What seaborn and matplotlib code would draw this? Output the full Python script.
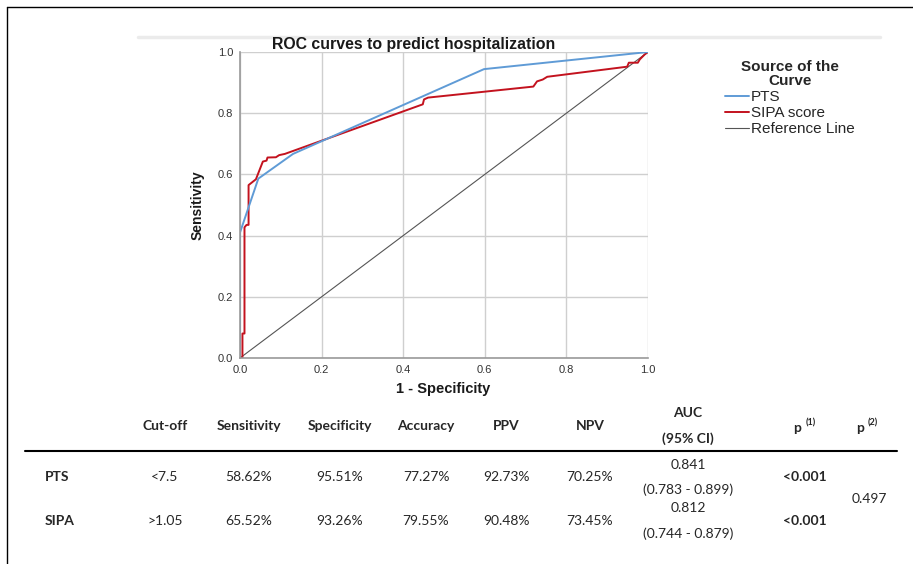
import numpy as np
import pandas as pd
import matplotlib
matplotlib.use("Agg")
import matplotlib.pyplot as plt
import seaborn as sns
from matplotlib.lines import Line2D

# ---------------- data ----------------
pts_fpr = [0.0, 0.0, 0.0449, 0.130, 0.598, 1.0]
pts_tpr = [0.0, 0.410, 0.5862, 0.667, 0.944, 1.0]

sipa_fpr = [0.0, 0.006, 0.006, 0.011, 0.011, 0.016, 0.021, 0.021, 0.039, 0.056, 0.065,
            0.0674, 0.088, 0.096, 0.110, 0.448, 0.451, 0.461, 0.719, 0.728, 0.742,
            0.753, 0.949, 0.953, 0.975, 0.980, 0.992, 1.0]
sipa_tpr = [0.0, 0.0, 0.080, 0.080, 0.427, 0.435, 0.435, 0.565, 0.584, 0.642, 0.645,
            0.6552, 0.656, 0.663, 0.667, 0.829, 0.845, 0.851, 0.887, 0.904, 0.910,
            0.919, 0.952, 0.965, 0.965, 0.976, 0.992, 1.0]

ref_fpr = [0.0, 1.0]
ref_tpr = [0.0, 1.0]

series_names = ["PTS", "SIPA score", "Reference Line"]
series_colors = ["#5f9bd6", "#c3121e", "#555555"]
axis_ticks = [0.0, 0.2, 0.4, 0.6, 0.8, 1.0]

row_labels = ["PTS", "SIPA"]
cutoffs = ["<7.5", ">1.05"]
sensitivity = ["58.62%", "65.52%"]
specificity = ["95.51%", "93.26%"]
accuracy = ["77.27%", "79.55%"]
ppv = ["92.73%", "90.48%"]
npv = ["70.25%", "73.45%"]
auc = ["0.841", "0.812"]
auc_ci = ["(0.783 - 0.899)", "(0.744 - 0.879)"]
p1 = ["<0.001", "<0.001"]
p2 = "0.497"
headers = ["Cut-off", "Sensitivity", "Specificity", "Accuracy", "PPV", "NPV"]

# ---------------- build frame ----------------
df = pd.concat([
    pd.DataFrame({"fpr": ref_fpr, "tpr": ref_tpr, "curve": series_names[2]}),
    pd.DataFrame({"fpr": sipa_fpr, "tpr": sipa_tpr, "curve": series_names[1]}),
    pd.DataFrame({"fpr": pts_fpr, "tpr": pts_tpr, "curve": series_names[0]}),
], ignore_index=True)

sns.set_theme(style="whitegrid")
plt.rcParams['font.family'] = ['Liberation Sans', 'DejaVu Sans']

W, H = 913, 564
fig = plt.figure(figsize=(W / 100, H / 100), dpi=100)
fig.patch.set_facecolor("white")

def fx(x):
    return x / W

def fy(y):
    return 1 - y / H

ax = fig.add_axes([fx(240), fy(358), 408 / W, 306 / H])
palette = dict(zip(series_names, series_colors))
sns.lineplot(data=df, x="fpr", y="tpr", hue="curve", units="curve", estimator=None,
             sort=False, palette=palette, hue_order=[series_names[2], series_names[1], series_names[0]],
             legend=False, ax=ax, linewidth=1.4)
for ln in ax.lines:
    if ln.get_color() in ("#555555",):
        ln.set_linewidth(0.8)

ax.set_xlim(0, 1)
ax.set_ylim(0, 1)
ax.set_xticks(axis_ticks)
ax.set_yticks(axis_ticks)
ax.set_xticklabels([f"{t:.1f}" for t in axis_ticks])
ax.set_yticklabels([f"{t:.1f}" for t in axis_ticks])
ax.tick_params(axis="both", labelsize=8, colors="#333333", length=2, pad=3)
ax.grid(True, color="#cfcfcf", linewidth=1.0)
ax.set_facecolor("white")
ax.set_xlabel("")
ax.set_ylabel("")
for s in ["top", "right"]:
    ax.spines[s].set_visible(False)
for s in ["left", "bottom"]:
    ax.spines[s].set_color("#9a9a9a")
    ax.spines[s].set_linewidth(1.2)

# titles and labels
fig.text(fx(414), fy(44), "ROC curves to predict hospitalization", ha="center", va="center",
         fontsize=11.4, fontweight="bold", color="#1a1a1a")
fig.text(fx(198), fy(205), "Sensitivity", rotation=90, ha="center", va="center",
         fontsize=10, fontweight="bold", color="#1a1a1a")
fig.text(fx(443), fy(389), "1 - Specificity", ha="center", va="center",
         fontsize=10.5, fontweight="bold", color="#1a1a1a")

# legend
handles = [Line2D([0], [0], color=c, lw=1.4 if i < 2 else 0.8) for i, c in enumerate(series_colors)]
leg = ax.legend(handles, series_names, title="Source of the\nCurve", loc="upper left",
                bbox_to_anchor=(fx(725), fy(60)), bbox_transform=fig.transFigure,
                frameon=False, fontsize=11.0, title_fontsize=11.0, handlelength=1.6,
                handletextpad=0.1, labelspacing=0.13, borderpad=0, borderaxespad=0)
leg.get_title().set_fontweight("bold")
leg.get_title().set_multialignment("center")
leg.get_title().set_linespacing(1.0)
leg._legend_box.align = "center"

# decorative frame lines
fig.add_artist(Line2D([fx(138), fx(880)], [fy(37), fy(37)], color="#ebebeb", lw=2.5))
fig.add_artist(Line2D([fx(7), fx(7)], [fy(7), 0], color="black", lw=1.0))
fig.add_artist(Line2D([fx(7), 1], [fy(7), fy(7)], color="black", lw=1.0))
fig.add_artist(Line2D([fx(25), fx(897)], [fy(451), fy(451)], color="black", lw=1.5))

# ---------------- table ----------------
tfam = ['Lato', 'DejaVu Sans']
tsize = 10
col_x = [165, 249, 340, 426, 506, 590]
hy = 426
for h, x in zip(headers, col_x):
    fig.text(fx(x), fy(hy), h, ha="center", va="center", fontsize=tsize, fontweight="bold", family=tfam)
fig.text(fx(688), fy(413), "AUC", ha="center", va="center", fontsize=tsize, fontweight="bold", family=tfam)
fig.text(fx(688), fy(439), "(95% CI)", ha="center", va="center", fontsize=tsize, fontweight="bold", family=tfam)
fig.text(fx(797), fy(428), "p", ha="center", va="center", fontsize=tsize, fontweight="bold", family=tfam)
fig.text(fx(811), fy(423), "(1)", ha="center", va="center", fontsize=6.5, fontweight="bold", family=tfam)
fig.text(fx(860), fy(428), "p", ha="center", va="center", fontsize=tsize, fontweight="bold", family=tfam)
fig.text(fx(873), fy(423), "(2)", ha="center", va="center", fontsize=6.5, fontweight="bold", family=tfam)

row_y = [477, 521]
auc_y = [(465, 490), (508, 534)]
for i in range(2):
    y = row_y[i]
    fig.text(fx(45), fy(y), row_labels[i], ha="left", va="center", fontsize=tsize, fontweight="bold", family=tfam)
    vals = [cutoffs[i], sensitivity[i], specificity[i], accuracy[i], ppv[i], npv[i]]
    for v, x in zip(vals, col_x):
        fig.text(fx(x), fy(y), v, ha="center", va="center", fontsize=tsize, family=tfam)
    fig.text(fx(688), fy(auc_y[i][0]), auc[i], ha="center", va="center", fontsize=tsize, family=tfam)
    fig.text(fx(688), fy(auc_y[i][1]), auc_ci[i], ha="center", va="center", fontsize=tsize, family=tfam)
    fig.text(fx(805), fy(y), p1[i], ha="center", va="center", fontsize=tsize, fontweight="bold", family=tfam)
fig.text(fx(869), fy(499), p2, ha="center", va="center", fontsize=tsize, family=tfam)

fig.savefig("out.png", dpi=100, facecolor="white")
